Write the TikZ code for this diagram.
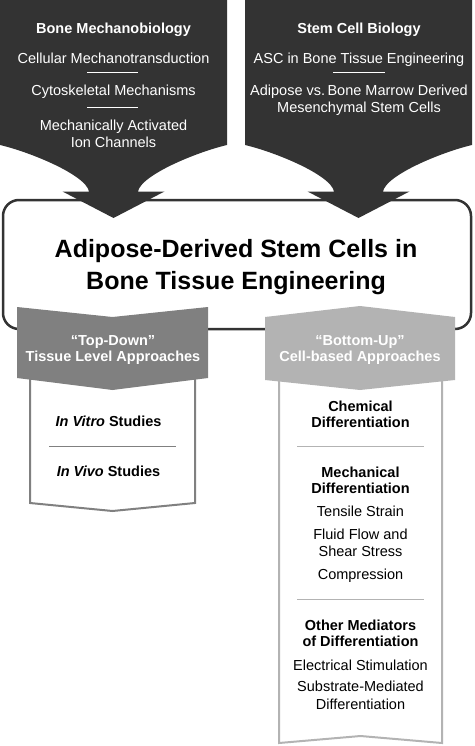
\documentclass[tikz,border=0pt]{standalone}
\usepackage{fontspec}
\setmainfont{Liberation Sans}
\usetikzlibrary{positioning}
\definecolor{arrowgray}{HTML}{333333}
\definecolor{topdown}{HTML}{808080}
\definecolor{bottomup}{HTML}{B3B3B3}
\tikzstyle{every node}+=[inner sep=0pt]
\tikzstyle{head} = [font=\fontsize{14.5}{16}\selectfont\bfseries, align=center, anchor=base]
\tikzstyle{item} = [font=\fontsize{14.5}{17.5}\selectfont, align=center, anchor=base]
\tikzstyle{title} = [rectangle, draw=arrowgray, line width=2.5pt, rounded corners=16pt, minimum width=468pt, minimum height=129pt]
\tikzstyle{titletext} = [font=\fontsize{25}{31.7}\selectfont\bfseries, align=center, anchor=base]
\tikzstyle{bigarrow} = [fill=arrowgray]
\tikzstyle{rule} = [draw, line width=1pt]

\begin{document}
\begin{tikzpicture}[x=1pt, y=-1pt]
            \useasboundingbox (0,0) rectangle (474,746);
            % Central box
            \node [title] (asc) at (237,264.5) {};
            \node [titletext] (asctext) at (236,289) {Adipose-Derived Stem Cells in\\Bone Tissue Engineering};
            % Arrows from the two fields
            \foreach \cx in {113.5,358.5}
              \fill [bigarrow, shift={(\cx,0)}] (-113.5,0) -- (113.5,0) -- (113.5,145)
                .. controls (83.5,152) and (27.5,175) .. (24.5,191.5) -- (51,191.5) -- (0,218)
                -- (-51,191.5) -- (-24.5,191.5) .. controls (-27.5,175) and (-83.5,152) .. (-113.5,145) -- cycle;
            % Approach boxes and banners
            \draw [topdown, line width=2pt] (30,370) -- (30,503) -- (112.5,511) -- (195,503) -- (195,370);
            \draw [bottomup, line width=2pt] (279,370) -- (279,743) -- (360.5,736) -- (442,743) -- (442,370);
            \fill [topdown] (17,307) -- (112.5,317) -- (208,307) -- (208,378) -- (112.5,390) -- (17,378) -- cycle;
            \fill [bottomup] (265,317) -- (360,306) -- (455,317) -- (455,380) -- (360,390) -- (265,380) -- cycle;
            % Place nodes
            \node [head, text=white] (bmb) at (113.5,34) {Bone Mechanobiology};
            \node [item, text=white] (cmt) at (113.5,63.3) {Cellular Mechanotransduction};
            \node [item, text=white] (csm) at (113.5,95.7) {Cytoskeletal Mechanisms};
            \node [item, text=white] (mac) at (113.5,147.7) {Mechanically Activated\\Ion Channels};
            \node [head, text=white] (scb) at (359,34) {Stem Cell Biology};
            \node [item, text=white] (abte) at (359,63.3) {ASC in Bone Tissue Engineering};
            \node [item, text=white] (avb) at (359,113) {Adipose vs.\,Bone Marrow Derived\\Mesenchymal Stem Cells};
            \node [head, text=white] (td) at (113,361.7) {“Top-Down”\\Tissue Level Approaches};
            \node [head, text=white] (bu) at (360,361.7) {“Bottom-Up”\\Cell-based Approaches};
            \node [head] (vitro) at (108.5,426) {\textit{In Vitro} Studies};
            \node [head] (vivo) at (108.5,476.7) {\textit{In Vivo} Studies};
            \node [head] (chem) at (360.5,427.3) {Chemical\\Differentiation};
            \node [head] (mech) at (360.5,493) {Mechanical\\Differentiation};
            \node [item] (tens) at (360.5,516.7) {Tensile Strain};
            \node [item] (ffs) at (360.5,556.7) {Fluid Flow and\\Shear Stress};
            \node [item] (comp) at (360.5,579) {Compression};
            \node [head] (other) at (360.5,646) {Other Mediators\\of Differentiation};
            \node [item] (elec) at (360.5,670.7) {Electrical Stimulation};
            \node [item] (subs) at (360.5,709) {Substrate-Mediated\\Differentiation};
            % Separators
            \draw [rule, white] (87,72.7) -- (138,72.7);
            \draw [rule, white] (87,107.3) -- (138,107.3);
            \draw [rule, white] (333,72.7) -- (385,72.7);
            \draw [rule, topdown] (49,446) -- (176,446);
            \draw [rule, bottomup] (297,446) -- (424,446);
            \draw [rule, bottomup] (297,599) -- (424,599);
\end{tikzpicture}
\end{document}
